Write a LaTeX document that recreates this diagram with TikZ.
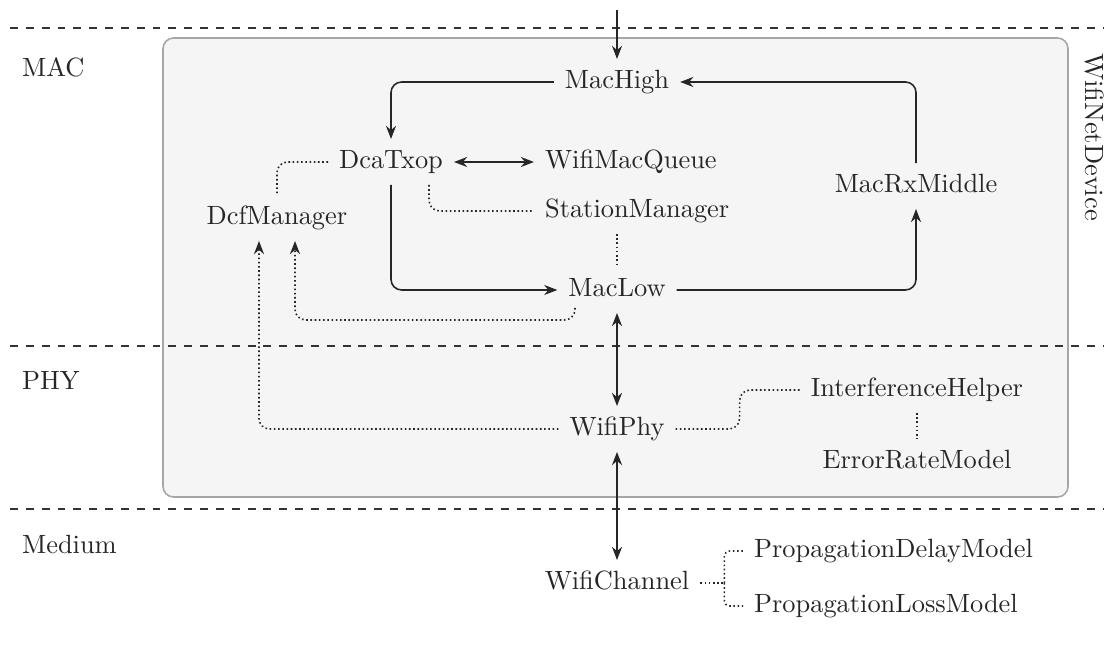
\documentclass[tikz,border=0pt]{standalone}
\usepackage{fontspec}
\usetikzlibrary{arrows.meta,calc}
\tikzset{
  >={Stealth[length=5pt,width=3.8pt]},
  lbl/.style={inner sep=4pt, text height=7pt, text depth=2pt, text=black!85},
  solidline/.style={line width=0.6pt, draw=black!85},
  dotline/.style={line width=0.6pt, draw=black!85, densely dotted},
  layerline/.style={line width=0.6pt, draw=black!80, dashed},
  devbox/.style={fill=black!4, draw=black!35, line width=0.6pt, rounded corners=4pt}
}
\begin{document}
\begin{tikzpicture}[x=0.3788pt,y=-0.3788pt]
\path[use as bounding box] (0,0) rectangle (1104,653);
\draw[devbox] (163,38) rectangle (1068,497);
\foreach \yy in {28,346,509} \draw[layerline] (10,\yy) -- (1104,\yy);

\node[lbl,anchor=west] (mac) at (11,70) {MAC};
\node[lbl,anchor=west] (phy) at (11,383) {PHY};
\node[lbl,anchor=west] (medium) at (11,547) {Medium};
\node[lbl,rotate=-90] (netdev) at (1092,137) {WifiNetDevice};

\node[lbl] (machigh) at (617,82) {MacHigh};
\node[lbl] (dcatxop) at (391,162) {DcaTxop};
\node[lbl,anchor=west] (queue) at (534,162) {WifiMacQueue};
\node[lbl,anchor=west] (station) at (534,211) {StationManager};
\node[lbl] (dcf) at (277,218) {DcfManager};
\node[lbl] (rxmiddle) at (916,186) {MacRxMiddle};
\node[lbl] (maclow) at (617,290) {MacLow};
\node[lbl] (wifiphy) at (617,429) {WifiPhy};
\node[lbl] (interf) at (917,390) {InterferenceHelper};
\node[lbl] (errrate) at (917,462) {ErrorRateModel};
\node[lbl] (channel) at (617,583) {WifiChannel};
\node[lbl,anchor=west] (delay) at (743,551) {PropagationDelayModel};
\node[lbl,anchor=west] (loss) at (743,606) {PropagationLossModel};
\coordinate (top) at (617,10);

\draw[solidline,->] (top) -- (machigh);
\draw[solidline,->,rounded corners] (machigh) -| (dcatxop);
\draw[solidline,<->] (dcatxop) -- (queue);
\draw[solidline,->,rounded corners] (dcatxop) |- (maclow);
\draw[solidline,->,rounded corners] (maclow) -| (rxmiddle);
\draw[solidline,->,rounded corners] (rxmiddle) |- (machigh);
\draw[solidline,<->] (maclow) -- (wifiphy);
\draw[solidline,<->] (wifiphy) -- (channel);

\draw[dotline,rounded corners] (dcatxop) -| (dcf);
\draw[dotline,rounded corners] ($(dcatxop.south)+(38,0)$) |- (station);
\draw[dotline] (station.south -| maclow) -- (maclow);
\draw[dotline,->,rounded corners] ($(maclow.south)+(-42,-5)$) -- ++(0,12) -| ($(dcf.south)+(18,0)$);
\draw[dotline,->,rounded corners] (wifiphy) -| ($(dcf.south)+(-18,0)$);
\draw[dotline,rounded corners] (wifiphy.east) -- ++(64,0) |- (interf);
\draw[dotline] (interf) -- (errrate);
\draw[dotline] (channel.east) -- ++(24,0) coordinate (fork);
\draw[dotline,rounded corners=2pt] (fork) |- (delay.west);
\draw[dotline,rounded corners=2pt] (fork) |- (loss.west);
\end{tikzpicture}
\end{document}
